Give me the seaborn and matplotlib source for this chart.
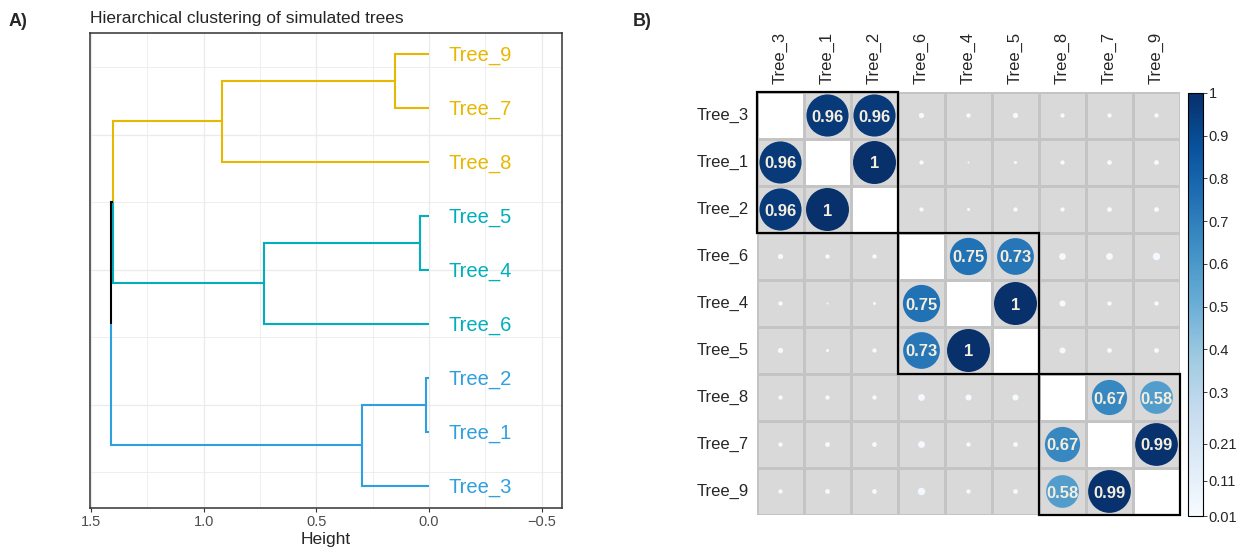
import numpy as np
import pandas as pd
import matplotlib
matplotlib.use("Agg")
import matplotlib.pyplot as plt
import matplotlib.cm as cm
from matplotlib.colors import ListedColormap, Normalize
from matplotlib.patches import Rectangle
import seaborn as sns

# ---------------- data ----------------
# Panel A: dendrogram (leaves listed bottom -> top)
leaf_order = ["Tree_3", "Tree_1", "Tree_2", "Tree_6", "Tree_4", "Tree_5", "Tree_8", "Tree_7", "Tree_9"]
leaf_cluster = [0, 0, 0, 1, 1, 1, 2, 2, 2]
cluster_colors = ["#2E9FDF", "#00AFBB", "#E7B800"]
merge_pairs = [("Tree_2", "Tree_1"), ("Tree_5", "Tree_4"), ("Tree_9", "Tree_7"),
               ("m0", "Tree_3"), ("m1", "Tree_6"), ("m2", "Tree_8"),
               ("m5", "m4"), ("m6", "m3")]
merge_heights = [0.012, 0.040, 0.153, 0.299, 0.731, 0.921, 1.405, 1.412]
x_ticks = [1.5, 1.0, 0.5, 0.0, -0.5]
x_tick_labels = ["1.5", "1.0", "0.5", "0.0", "\u22120.5"]

# Panel B: similarity matrix (row/column order as shown)
trees = ["Tree_3", "Tree_1", "Tree_2", "Tree_6", "Tree_4", "Tree_5", "Tree_8", "Tree_7", "Tree_9"]
similarity = [
    [np.nan, 0.96, 0.96, 0.015, 0.01, 0.015, 0.01, 0.01, 0.01],
    [0.96, np.nan, 1.00, 0.01, 0.002, 0.005, 0.01, 0.012, 0.012],
    [0.96, 1.00, np.nan, 0.01, 0.005, 0.01, 0.01, 0.012, 0.012],
    [0.015, 0.01, 0.01, np.nan, 0.75, 0.73, 0.025, 0.025, 0.03],
    [0.01, 0.002, 0.005, 0.75, np.nan, 1.00, 0.02, 0.01, 0.01],
    [0.015, 0.005, 0.01, 0.73, 1.00, np.nan, 0.02, 0.012, 0.012],
    [0.01, 0.01, 0.01, 0.025, 0.02, 0.02, np.nan, 0.67, 0.58],
    [0.01, 0.012, 0.012, 0.025, 0.01, 0.012, 0.67, np.nan, 0.99],
    [0.01, 0.012, 0.012, 0.03, 0.01, 0.012, 0.58, 0.99, np.nan],
]
block_sizes = [3, 3, 3]
cbar_tick_values = [0.01, 0.092, 0.179, 0.3, 0.4, 0.5, 0.6, 0.7, 0.8, 0.9, 1.0]
cbar_tick_labels = ["0.01", "0.11", "0.21", "0.3", "0.4", "0.5", "0.6", "0.7", "0.8", "0.9", "1"]
value_limits = (0.01, 1.0)

# ---------------- style ----------------
sns.set_style("white")
plt.rcParams["font.family"] = ["Liberation Sans", "DejaVu Sans"]

W, H = 1242, 548
fig = plt.figure(figsize=(W / 100, H / 100), dpi=100)

def frac(x0, y0, x1, y1):
    return [x0 / W, 1 - y1 / H, (x1 - x0) / W, (y1 - y0) / H]

# ---------------- Panel A ----------------
axA = fig.add_axes(frac(90, 33, 562, 508))
axA.set_xlim(1.505, -0.59)
axA.set_ylim(0.59, 9.38)

grid_col = "#ebebeb"
for v in [1.25, 0.75, 0.25, -0.25]:
    axA.axvline(v, color=grid_col, lw=0.6, zorder=0)
for v in x_ticks:
    axA.axvline(v, color=grid_col, lw=0.9, zorder=0)
for v in [1.25, 3.75, 6.25, 8.75]:
    axA.axhline(v, color=grid_col, lw=0.6, zorder=0)
for v in [2.5, 5.0, 7.5]:
    axA.axhline(v, color=grid_col, lw=0.9, zorder=0)

pos = {n: i + 1 for i, n in enumerate(leaf_order)}
hgt = {n: 0.0 for n in leaf_order}
members = {n: [n] for n in leaf_order}
leaf_color = {n: cluster_colors[c] for n, c in zip(leaf_order, leaf_cluster)}

def node_color(n):
    cols = {leaf_color[m] for m in members[n]}
    return cols.pop() if len(cols) == 1 else "black"

for k, ((a, b), h) in enumerate(zip(merge_pairs, merge_heights)):
    nid = f"m{k}"
    y = (pos[a] + pos[b]) / 2
    for c in (a, b):
        axA.plot([h, h, hgt[c]], [y, pos[c], pos[c]], color=node_color(c),
                 lw=1.5, solid_capstyle="butt", solid_joinstyle="miter", zorder=2)
    pos[nid] = y
    hgt[nid] = h
    members[nid] = members[a] + members[b]

for n in leaf_order:
    axA.annotate(n, xy=(0, pos[n]), xytext=(14, 0), textcoords="offset points",
                 ha="left", va="center_baseline", fontsize=14.5, color=leaf_color[n])

axA.set_xticks(x_ticks)
axA.set_xticklabels(x_tick_labels)
axA.set_yticks([])
axA.tick_params(axis="x", length=3, width=0.8, color="#333333", labelcolor="#4d4d4d",
                labelsize=10.5, pad=2, bottom=True)
for s in axA.spines.values():
    s.set_color("#333333")
    s.set_linewidth(1.1)
axA.set_xlabel("Height", fontsize=12.5, labelpad=2)
axA.set_title("Hierarchical clustering of simulated trees", loc="left",
              fontsize=12.5, pad=7)

fig.text(9 / W, 1 - 21 / H, "A)", fontsize=13, fontweight="bold", va="center", ha="left")
fig.text(633 / W, 1 - 21 / H, "B)", fontsize=13, fontweight="bold", va="center", ha="left")

# ---------------- Panel B ----------------
axB = fig.add_axes(frac(757, 92, 1180, 515))
mat = pd.DataFrame(similarity, index=trees, columns=trees)
bg = pd.DataFrame(np.where(np.isnan(mat.values), 1, 0), index=trees, columns=trees)
sns.heatmap(bg, ax=axB, cmap=ListedColormap(["#d9d9d9", "#ffffff"]), vmin=0, vmax=1,
            linewidths=1, linecolor="#c4c4c4", cbar=False)

long = mat.stack().reset_index()
long.columns = ["row", "col", "value"]
long["x"] = long["col"].map({t: i + 0.5 for i, t in enumerate(trees)})
long["y"] = long["row"].map({t: i + 0.5 for i, t in enumerate(trees)})

norm = Normalize(*value_limits)
sns.scatterplot(data=long, x="x", y="y", hue="value", size="value",
                palette="Blues", hue_norm=value_limits,
                sizes=(0, 958), size_norm=(0, 1), linewidth=0,
                legend=False, ax=axB, zorder=3)

for _, r in long.iterrows():
    if r["value"] >= 0.5:
        lab = f"{r['value']:.2f}".rstrip("0").rstrip(".")
        axB.text(r["x"], r["y"], lab, ha="center", va="center_baseline",
                 fontsize=12, fontweight="bold", color="#f5eedc", zorder=4)

start = 0
for s in block_sizes:
    axB.add_patch(Rectangle((start, start), s, s, fill=False, edgecolor="black",
                            lw=1.6, zorder=5, clip_on=False))
    start += s

axB.set_xlim(0, len(trees))
axB.set_ylim(len(trees), 0)
axB.set_xlabel("")
axB.set_ylabel("")
axB.set_xticks(np.arange(len(trees)) + 0.5)
axB.set_yticks(np.arange(len(trees)) + 0.5)
axB.set_xticklabels(trees, rotation=90, fontsize=12)
axB.set_yticklabels(trees, rotation=0, fontsize=12)
axB.xaxis.tick_top()
axB.tick_params(length=0, pad=6)
for s in axB.spines.values():
    s.set_visible(False)

# colorbar
cax = fig.add_axes(frac(1188, 93, 1203, 516))
cb = fig.colorbar(cm.ScalarMappable(norm=norm, cmap="Blues"), cax=cax)
cb.set_ticks(cbar_tick_values)
cb.set_ticklabels(cbar_tick_labels)
cb.outline.set_edgecolor("black")
cb.outline.set_linewidth(0.8)
cax.tick_params(length=3, width=0.6, labelsize=10.5, pad=1)

fig.savefig("out.png", dpi=100)
